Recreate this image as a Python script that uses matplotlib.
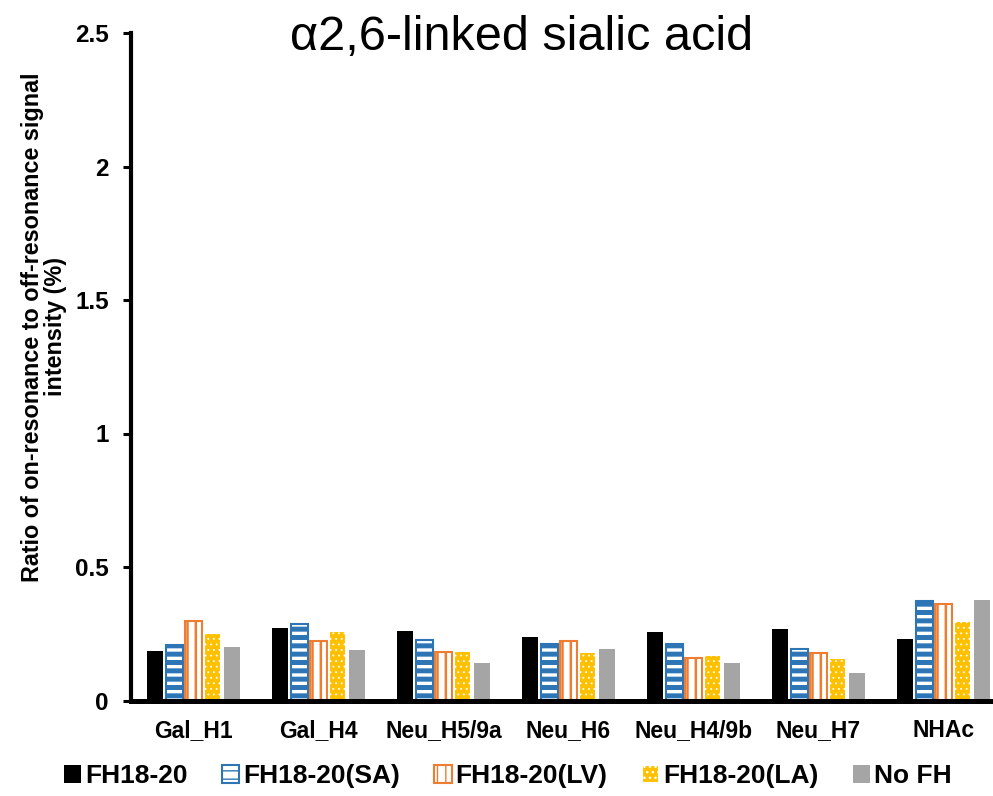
import matplotlib
matplotlib.use("Agg")
import matplotlib.pyplot as plt
import numpy as np

plt.rcParams['font.family'] = ['Liberation Sans', 'DejaVu Sans']

categories = ['Gal_H1', 'Gal_H4', 'Neu_H5/9a', 'Neu_H6', 'Neu_H4/9b', 'Neu_H7', 'NHAc']
series_names = ['FH18-20', 'FH18-20(SA)', 'FH18-20(LV)', 'FH18-20(LA)', 'No FH']

fh = [0.184, 0.270, 0.261, 0.239, 0.258, 0.266, 0.231]
fh_sa = [0.209, 0.285, 0.227, 0.210, 0.213, 0.194, 0.374]
fh_lv = [0.297, 0.221, 0.180, 0.221, 0.160, 0.179, 0.362]
fh_la = [0.251, 0.261, 0.184, 0.181, 0.170, 0.160, 0.299]
no_fh = [0.202, 0.190, 0.142, 0.194, 0.141, 0.104, 0.377]

# face, edge, hatch, hatch linewidth (pt)
styles = [
    ('black', 'none', None, 1.0),
    ('white', '#2E75B6', '--', 3.6),
    ('white', '#ED7D31', '||', 1.8),
    ('#FFC000', 'white', '...', 0.6),
    ('#A5A5A5', 'none', None, 1.0),
]

fig = plt.figure(figsize=(9.93, 7.96), dpi=100)
ax = fig.add_axes([131 / 993, 95.5 / 796, 875 / 993, 667.5 / 796])

x = np.arange(len(categories))
pitch = 0.154
width = 0.134
all_vals = [fh, fh_sa, fh_lv, fh_la, no_fh]
for i, (vals, name, st) in enumerate(zip(all_vals, series_names, styles)):
    face, edge, hatch, hlw = st
    bars = ax.bar(x + (i - 2) * pitch, vals, width, label=name,
                  color=face, edgecolor=edge, hatch=hatch,
                  linewidth=1.5 if edge != 'none' else 0)
    for b in bars:
        if hasattr(b, 'set_hatch_linewidth'):
            b.set_hatch_linewidth(hlw)

ax.set_xlim(-0.5, 6.5)
ax.set_ylim(0, 2.5)
ax.set_yticks([0, 0.5, 1, 1.5, 2, 2.5])
ax.set_yticklabels(['0', '0.5', '1', '1.5', '2', '2.5'])
ax.set_xticks(x)
ax.set_xticklabels(categories)

for lab in ax.get_xticklabels():
    lab.set_fontweight('bold')
    lab.set_fontsize(16.5)
for lab in ax.get_yticklabels():
    lab.set_fontweight('bold')
    lab.set_fontsize(17.5)

ax.tick_params(axis='y', length=6, width=2.2, pad=10)
ax.tick_params(axis='x', length=0, pad=13)
ax.spines['top'].set_visible(False)
ax.spines['right'].set_visible(False)
ax.spines['left'].set_linewidth(3)
ax.spines['bottom'].set_linewidth(3.6)

fig.text(522 / 993, (796 - 50) / 796, 'α2,6-linked sialic acid',
         fontsize=35, ha='center', va='baseline')
fig.text(44 / 993, (796 - 327) / 796,
         'Ratio of on-resonance to off-resonance signal\nintensity (%)',
         rotation=90, ha='center', va='center', fontsize=16.8,
         fontweight='bold', linespacing=1.0)

fig.legend(loc='center left', bbox_to_anchor=(51 / 993, 20 / 796), ncol=5,
           frameon=False, borderpad=0, handlelength=0.65, handleheight=0.65,
           handletextpad=0.15, columnspacing=1.3,
           prop={'size': 19, 'weight': 'bold'})

fig.savefig('out.png', dpi=100)
